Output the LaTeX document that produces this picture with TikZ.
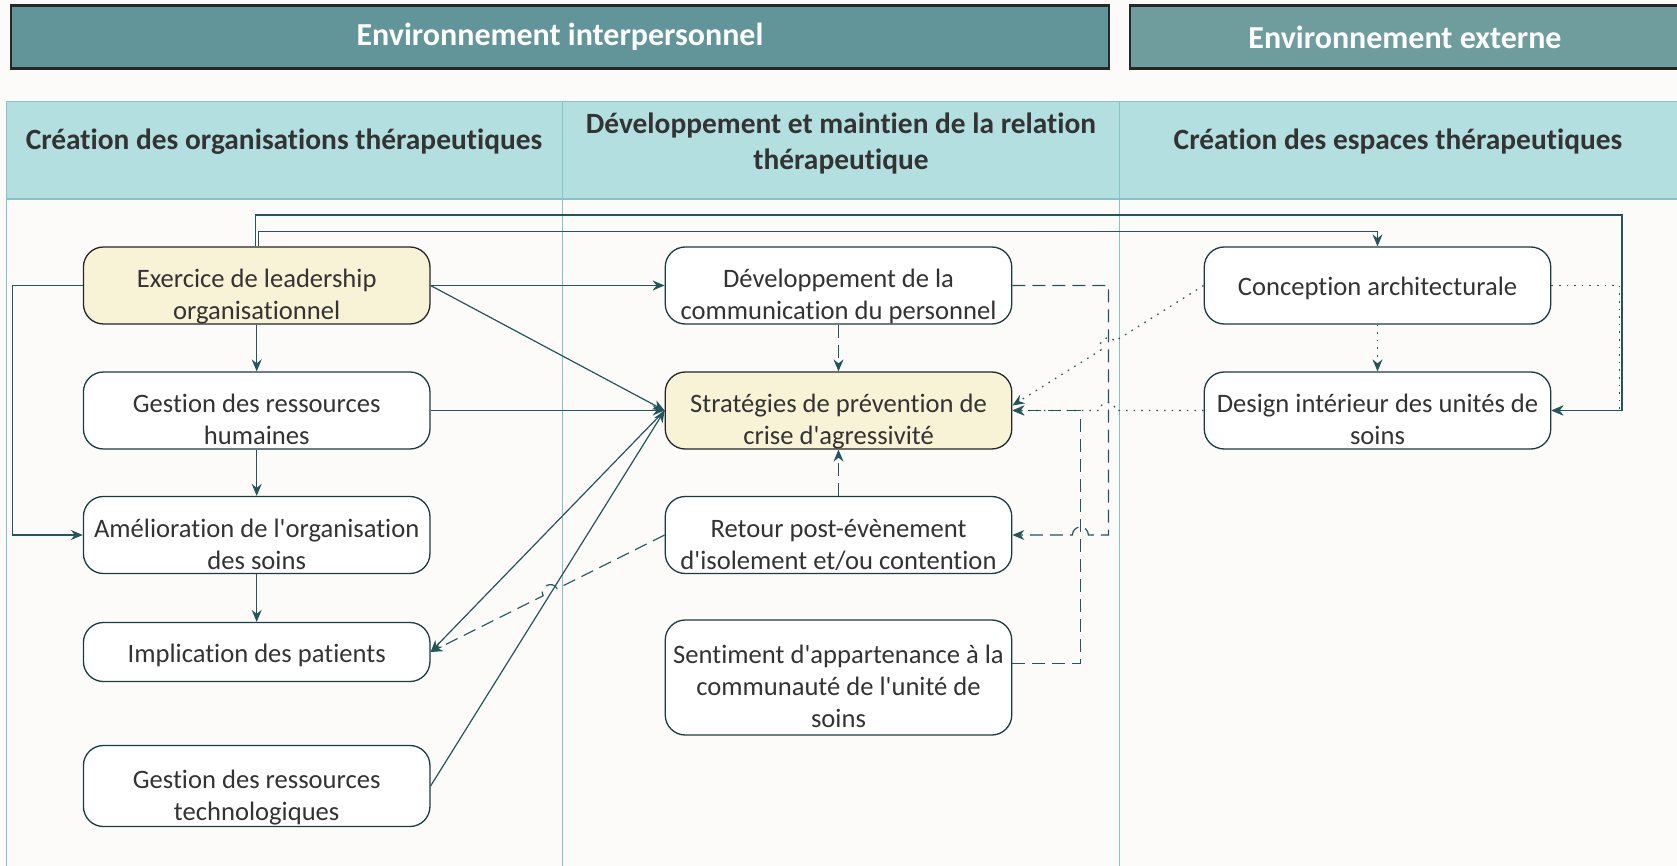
\documentclass[tikz,border=0pt]{standalone}
\usepackage{fontspec}
\setmainfont{Carlito}[Ligatures={TeXOff,NoCommon}]
\usetikzlibrary{arrows.meta,calc}
\definecolor{headteal}{HTML}{62959A}
\definecolor{headtealb}{HTML}{6F9D9D}
\definecolor{lanehead}{HTML}{B4DFE0}
\definecolor{laneline}{HTML}{86C3C6}
\definecolor{paper}{HTML}{FCFBF9}
\definecolor{boxyellow}{HTML}{F8F3D6}
\definecolor{linkcol}{HTML}{24555A}
\definecolor{inkgray}{HTML}{333333}
\newcommand\boxtext[2][5.9pt]{\raisebox{-#1}[\height][\depth]{\begin{tabular}{@{}c@{}}#2\end{tabular}}}
\tikzset{box/.style={draw=linkcol!70!black,line width=0.65pt,rounded corners=10pt,fill=white,
   minimum width=173.25pt,minimum height=38.5pt,inner sep=0pt,text=inkgray,
   font=\fontsize{13.3}{16}\selectfont},
 keybox/.style={box,fill=boxyellow,draw=black!85},
 envbox/.style={draw=black!85,line width=1.1pt,text=white,minimum height=31.5pt,
   font=\bfseries\fontsize{16}{19}\selectfont},
 lanetitle/.style={align=center,text=inkgray,font=\bfseries\fontsize{14.7}{18}\selectfont},
 link/.style={draw=linkcol,line width=0.6pt,-{Stealth[length=6pt,width=5pt,inset=2pt]}},
 dashlink/.style={link,dash pattern=on 6.5pt off 3.5pt},
 dotlink/.style={link,dash pattern=on 0.8pt off 3pt},
 }

\begin{document}
\begin{tikzpicture}[x=0.5pt,y=-0.5pt]
    \useasboundingbox (0,0) rectangle (1677,866);
    \fill[paper] (0,0) rectangle (1677,866);

    \node[envbox,fill=headteal,minimum width=549pt] (envint) at (560,37) {Environnement interpersonnel};
    \node[envbox,fill=headtealb,minimum width=275pt] (envext) at (1405,37) {Environnement externe};

    \fill[lanehead] (6.4,101.6) rectangle (1680,199);
    \draw[laneline,line width=0.6pt] (1680,101.6) -- (6.4,101.6) -- (6.4,870)
        (6.4,199) -- (1680,199) (562.5,101.6) -- (562.5,870) (1119.7,101.6) -- (1119.7,870);
    \node[lanetitle] (laneorg) at (284,142) {Création des organisations thérapeutiques};
    \node[lanetitle] (lanerel) at (841,143.5) {Développement et maintien de la relation\\thérapeutique};
    \node[lanetitle] (laneesp) at (1398,142) {Création des espaces thérapeutiques};

    \node[keybox] (lead) at (256.7,285.5) {\boxtext{Exercice de leadership\\organisationnel}};
    \node[box] (rh) at (256.7,410.5) {\boxtext{Gestion des ressources\\humaines}};
    \node[box] (amel) at (256.7,535) {\boxtext{Amélioration de l'organisation\\des soins}};
    \node[box,minimum height=29.5pt] (impl) at (256.7,652) {\boxtext[2pt]{Implication des patients}};
    \node[box,minimum height=40.5pt] (tech) at (256.7,786) {\boxtext{Gestion des ressources\\technologiques}};
    \node[box] (comm) at (838.5,285.5) {\boxtext{Développement de la\\communication du personnel}};
    \node[keybox] (strat) at (838.5,410.5) {\boxtext{Stratégies de prévention de\\crise d'agressivité}};
    \node[box] (ret) at (838.5,535) {\boxtext{Retour post-évènement\\d'isolement et/ou contention}};
    \node[box,minimum height=57.5pt] (sent) at (838.5,677.5) {\boxtext{Sentiment d'appartenance à la\\communauté de l'unité de\\soins}};
    \node[box] (arch) at (1377.5,285.5) {\boxtext[2pt]{Conception architecturale}};
    \node[box] (design) at (1377.5,410.5) {\boxtext{Design intérieur des unités de\\soins}};

    \coordinate (rim) at (1622,215);
    \coordinate (stratin) at ($(strat.east)+(0,-5)$);

    \draw[link] (lead) -- (rh);
    \draw[link] (rh) -- (amel);
    \draw[link] (amel) -- (impl);
    \draw[link] (lead.west) -- ++(-70.4,0) |- (amel.west);
    \draw[link] (lead.east) -- (comm.west);
    \draw[link] (lead.east) -- (strat.west);
    \draw[link] (rh.east) -- (strat.west);
    \draw[link] (tech.east) -- (strat.west);
    \draw[link] (strat.west) -- (impl.east);
    \draw[link] ($(lead.north)+(-1.5,0)$) |- (rim) |- (design.east);
    \draw[link] ($(lead.north)+(1.5,0)$) -- ++(0,-15) -| (arch.north);

    \draw[dashlink] (comm) -- (strat);
    \draw[dashlink] (ret) -- (strat);
    \draw[dashlink] (ret.west) -- ($(ret.west)!0.459!(impl.east)$)
        .. controls +(-4.6,-8.9) and +(-4.6,-8.9) .. ($(ret.west)!0.519!(impl.east)$) -- (impl.east);
    \draw[dashlink] (comm.east) -- ++(96,0) -- ++(0,249.5) -- ++(-20,0)
        arc[start angle=0,end angle=-180,radius=8] -- (ret.east);
    \draw[dashlink] ($(sent.east)+(0,-14)$) -- ++(68,0) |- (strat.east);

    \draw[dotlink] (arch) -- (design);
    \draw[dotlink] (arch.west) -- ($(arch.west)!0.465!(stratin)$)
        .. controls +(-5.3,-8.5) and +(-5.3,-8.5) .. ($(arch.west)!0.535!(stratin)$) -- (stratin);
    \draw[dotlink] (design.west) -- ++(-88,0) arc[start angle=0,end angle=-180,radius=8] -- (strat.east);
    \draw[dotlink] (arch.east) -- ++(68,0) |- (design.east);
\end{tikzpicture}
\end{document}
